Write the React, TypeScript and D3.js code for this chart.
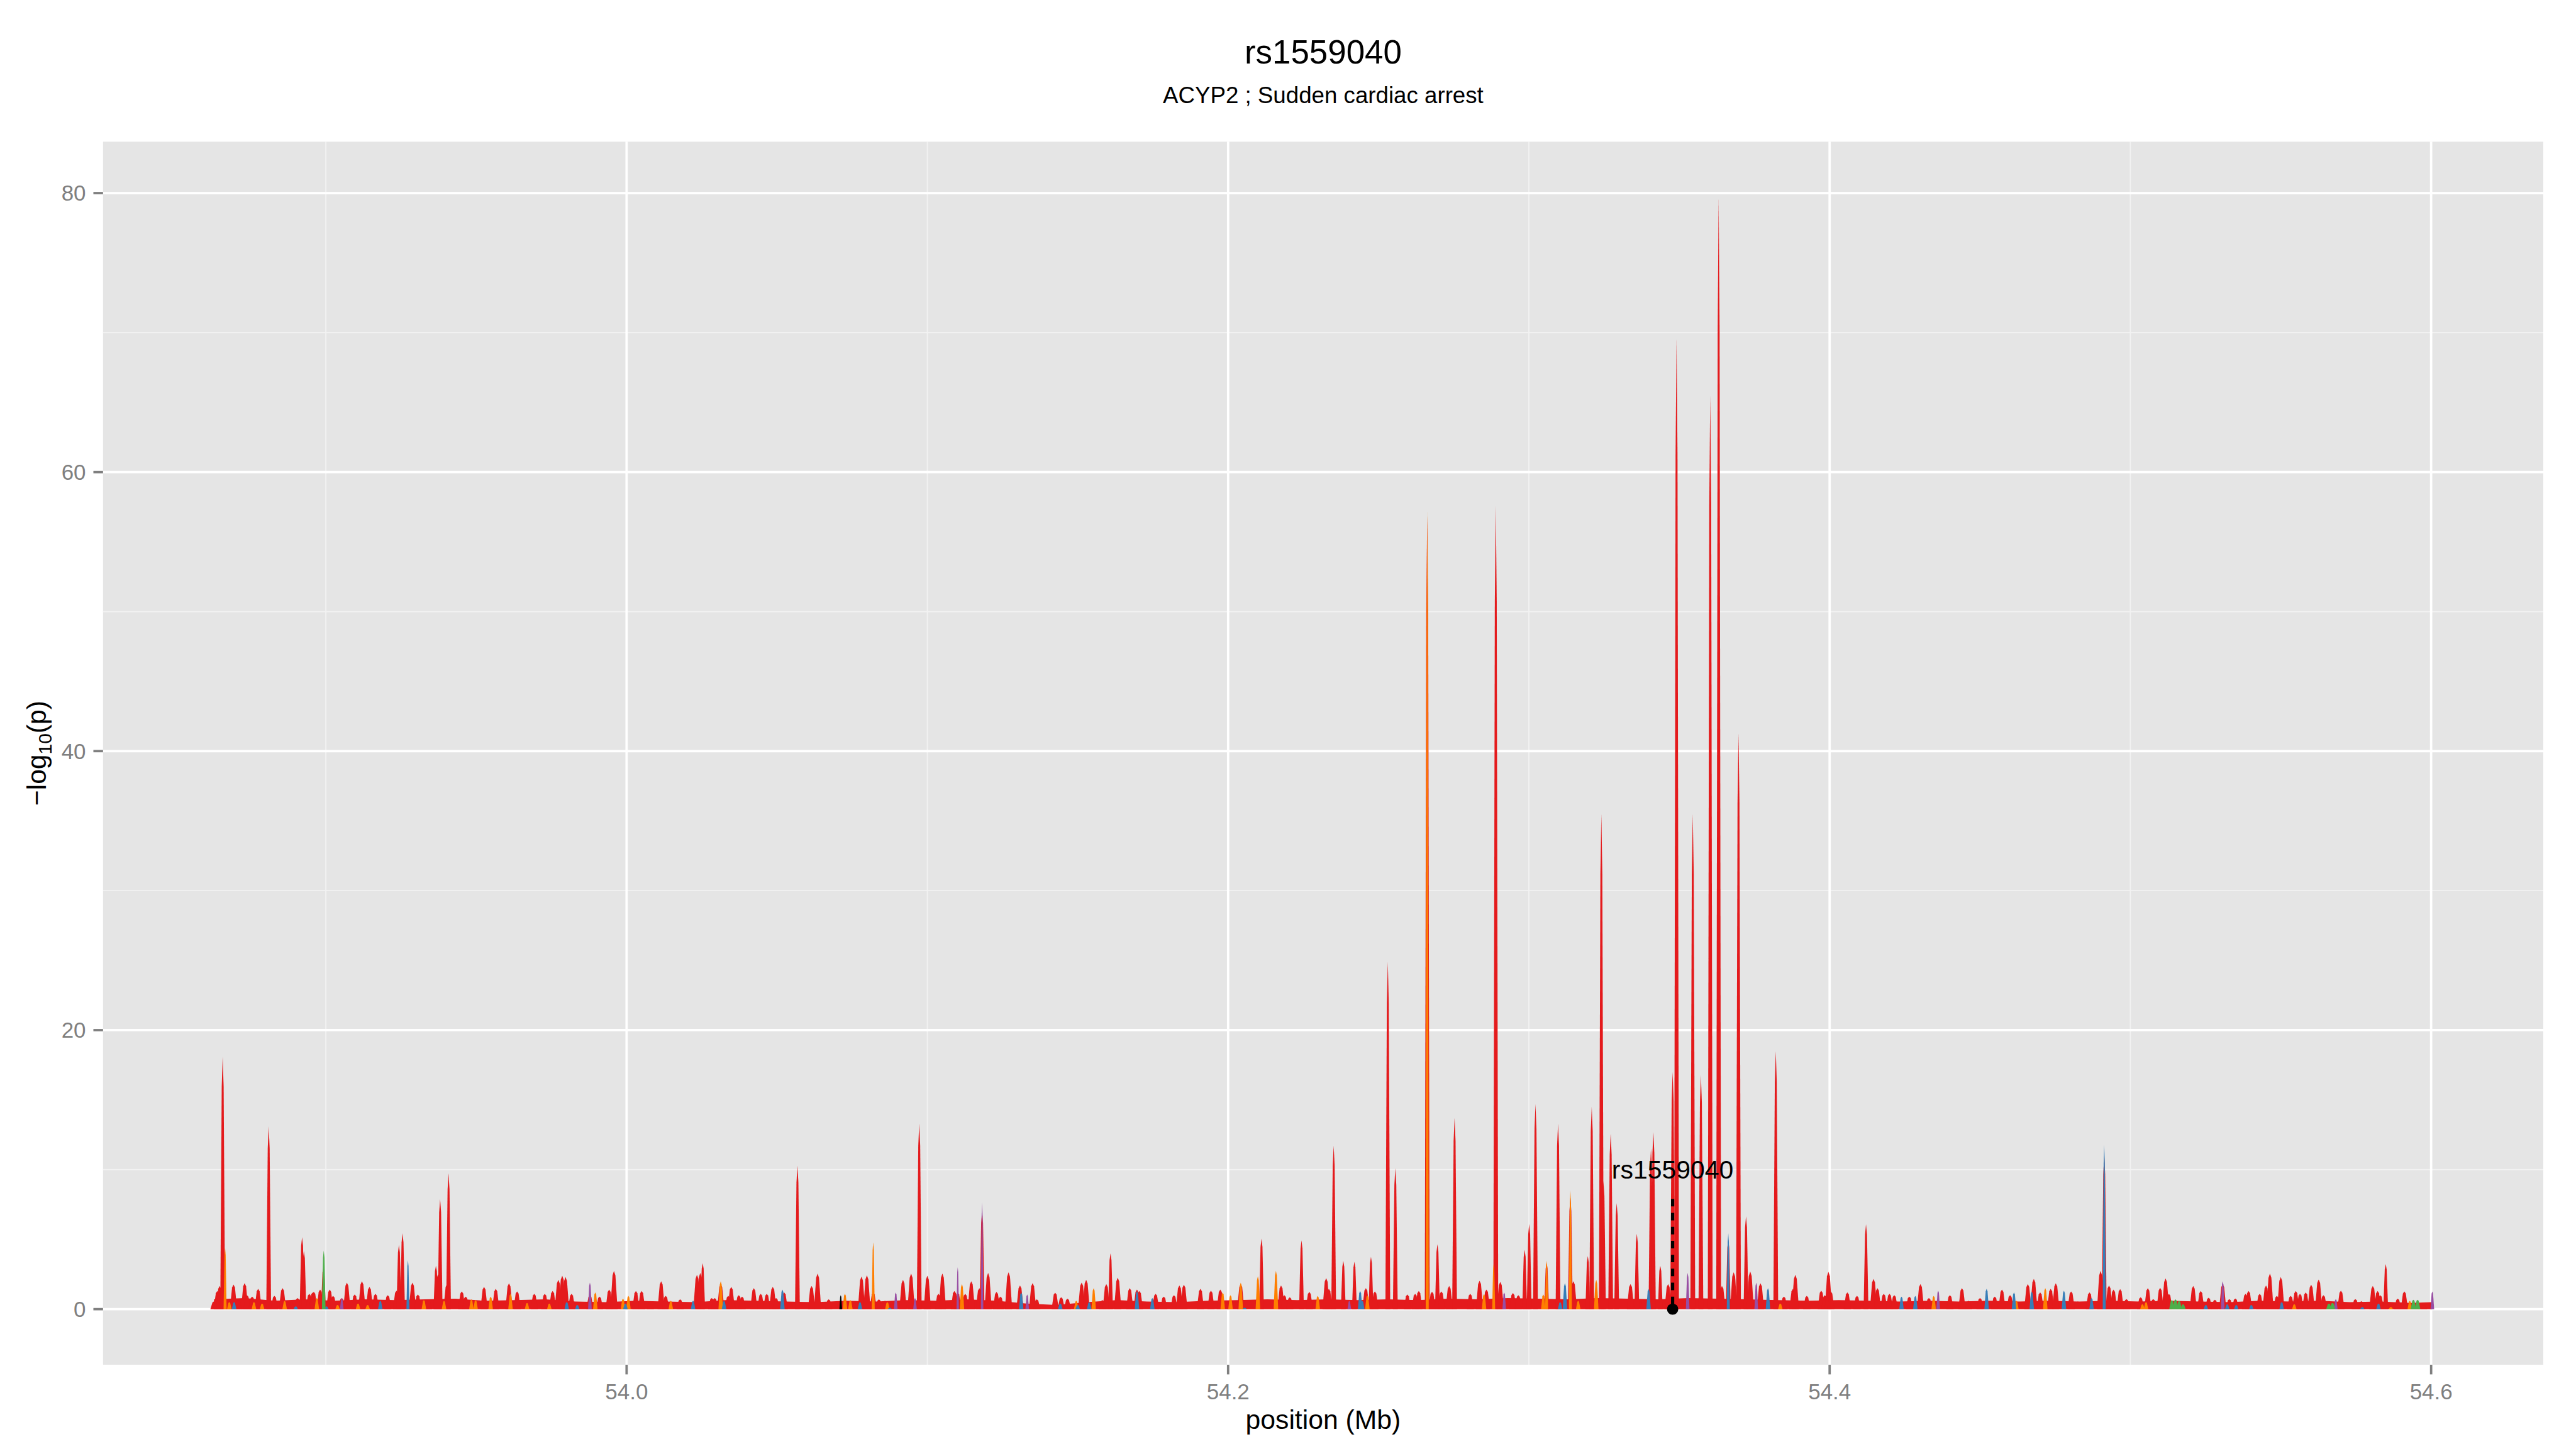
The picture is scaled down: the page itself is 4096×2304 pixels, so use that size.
import * as d3 from 'd3';

// -log10(p) values along the region (position in Mb, value)
const floorPoints: [number, number][] = [
  [53.8628, 0.7], [53.873, 0.8], [53.883, 0.6], [53.893, 0.7], [53.903, 0.6], [53.913, 0.7],
  [53.923, 0.65], [53.933, 0.7], [53.943, 0.75], [53.953, 0.6], [53.963, 0.65], [53.973, 0.7],
  [53.983, 0.55], [53.993, 0.5], [54.003, 0.6], [54.013, 0.55], [54.023, 0.5], [54.033, 0.65],
  [54.043, 0.6], [54.053, 0.55], [54.063, 0.5], [54.073, 0.6], [54.083, 0.55], [54.093, 0.65],
  [54.103, 0.6], [54.113, 0.7], [54.123, 0.6], [54.133, 0.4], [54.143, 0.3], [54.153, 0.5],
  [54.163, 0.65], [54.173, 0.55], [54.183, 0.5], [54.193, 0.6], [54.203, 0.65], [54.213, 0.7],
  [54.223, 0.65], [54.233, 0.7], [54.243, 0.65], [54.253, 0.7], [54.263, 0.65], [54.273, 0.75],
  [54.283, 0.7], [54.293, 0.8], [54.303, 0.75], [54.313, 0.7], [54.323, 0.8], [54.333, 0.75],
  [54.343, 0.7], [54.353, 0.8], [54.363, 0.75], [54.373, 0.7], [54.383, 0.65], [54.393, 0.6],
  [54.403, 0.65], [54.413, 0.6], [54.423, 0.55], [54.433, 0.6], [54.443, 0.55], [54.453, 0.6],
  [54.463, 0.55], [54.473, 0.6], [54.483, 0.55], [54.493, 0.6], [54.503, 0.55], [54.513, 0.6],
  [54.523, 0.55], [54.533, 0.5], [54.543, 0.6], [54.553, 0.55], [54.563, 0.6], [54.573, 0.5],
  [54.583, 0.55], [54.593, 0.45], [54.6004, 0.5],
];

const redPeaks: [number, number][] = [
  [53.8628, 0.56], [53.8639, 1.3], [53.8647, 1.66], [53.8657, 18.1], [53.8675, 0.6], [53.8693, 1.76],
  [53.8709, 0.67], [53.873, 1.87], [53.8738, 1.0], [53.8755, 0.9], [53.8775, 1.46], [53.881, 13.1],
  [53.8829, 0.95], [53.8856, 1.5], [53.8872, 0.5], [53.8886, 0.5], [53.8906, 0.8], [53.8921, 5.16],
  [53.8927, 4.16], [53.8945, 1.1], [53.8956, 1.2], [53.896, 1.25], [53.8981, 1.4], [53.8992, 3.0],
  [53.9013, 1.4], [53.9024, 0.95], [53.9053, 0.8], [53.907, 1.9], [53.9096, 1.05], [53.912, 2.0],
  [53.9145, 1.6], [53.9165, 1.1], [53.9206, 1.0], [53.9235, 1.33], [53.9243, 4.6], [53.9255, 5.44],
  [53.9288, 1.9], [53.9306, 1.05], [53.9341, 0.7], [53.9366, 3.1], [53.9373, 2.5], [53.938, 7.9],
  [53.9403, 1.8], [53.9408, 9.74], [53.9452, 1.27], [53.9465, 0.9], [53.9526, 1.6], [53.9565, 1.46],
  [53.9609, 1.85], [53.9636, 1.27], [53.9693, 1.1], [53.9728, 1.1], [53.9754, 1.3], [53.9773, 2.1],
  [53.9786, 2.4], [53.9797, 2.3], [53.9817, 1.1],
  [53.9878, 1.0], [53.991, 0.9], [53.9942, 1.4], [53.9958, 2.75], [54.0031, 1.3], [54.005, 1.3],
  [54.0079, 0.5], [54.0115, 2.0], [54.013, 0.95], [54.0178, 0.7], [54.0234, 2.46], [54.0245, 2.6],
  [54.0253, 3.3], [54.0283, 0.8], [54.0293, 0.8], [54.0313, 1.8], [54.0338, 0.95], [54.0348, 1.6],
  [54.0373, 1.0], [54.0384, 0.9], [54.0423, 1.5], [54.0446, 1.1], [54.0466, 1.1], [54.0486, 1.6],
  [54.0497, 0.8], [54.0524, 1.2], [54.0568, 10.3], [54.0615, 1.66], [54.0635, 2.55], [54.0672, 0.7],
  [54.0781, 2.34], [54.0799, 2.43], [54.082, 1.2], [54.0839, 0.7], [54.0859, 0.6], [54.0919, 2.1],
  [54.0946, 2.55], [54.0973, 13.3], [54.1, 2.4], [54.1037, 1.1], [54.105, 2.55], [54.109, 1.3],
  [54.1101, 1.2], [54.1126, 1.1], [54.1146, 2.0], [54.1173, 1.5], [54.1182, 7.0], [54.1202, 2.6],
  [54.123, 1.23], [54.1243, 0.9], [54.127, 2.64], [54.1308, 1.7], [54.135, 1.87], [54.1364, 0.7],
  [54.1425, 1.18], [54.1445, 0.85], [54.1466, 0.75], [54.1513, 1.9], [54.1528, 2.1], [54.1582, 0.65],
  [54.1595, 1.8], [54.1609, 4.0], [54.1633, 2.26], [54.1673, 1.5], [54.1697, 1.4], [54.1705, 1.3],
  [54.1759, 1.1], [54.1786, 0.9], [54.182, 1.0], [54.1838, 1.7], [54.1853, 1.75], [54.1908, 1.46],
  [54.1943, 1.33], [54.1974, 1.4], [54.2042, 1.8], [54.2111, 5.06], [54.2176, 1.7], [54.2187, 1.0],
  [54.2205, 0.85], [54.2244, 4.93], [54.227, 1.23], [54.2326, 2.23], [54.2335, 1.46],
  [54.2351, 11.7], [54.2383, 3.45], [54.242, 3.4], [54.2458, 1.5], [54.2475, 3.75], [54.2488, 1.27],
  [54.2531, 24.9], [54.2556, 10.1], [54.2596, 1.05], [54.2622, 1.1], [54.2634, 1.3], [54.2662, 56.8],
  [54.2678, 1.25], [54.2696, 4.65], [54.2709, 1.27], [54.2735, 1.66], [54.2753, 13.7], [54.2805, 1.1],
  [54.2836, 2.04], [54.2859, 1.4], [54.289, 57.6], [54.2905, 1.95], [54.2947, 1.15], [54.2965, 1.0],
  [54.2986, 4.25], [54.3001, 6.1], [54.3022, 14.7], [54.3059, 3.3], [54.3097, 13.3], [54.3138, 8.0],
  [54.3148, 2.0], [54.3196, 3.8], [54.3209, 14.5], [54.3241, 35.5], [54.3248, 9.2], [54.3272, 12.6],
  [54.3292, 7.6], [54.3338, 1.8], [54.3359, 5.4], [54.3381, 0.65], [54.3406, 11.5], [54.3414, 12.7],
  [54.3437, 3.1], [54.3463, 1.8], [54.3478, 17.0], [54.3491, 69.6], [54.3545, 35.5], [54.3572, 16.8],
  [54.3603, 65.5], [54.3631, 79.7], [54.3642, 1.66], [54.3663, 5.0], [54.3681, 2.64], [54.3697, 41.3],
  [54.3722, 6.66], [54.3736, 2.7], [54.377, 1.85], [54.3821, 18.5], [54.3848, 0.9], [54.3878, 1.46],
  [54.3886, 2.46], [54.3924, 0.95], [54.3972, 1.33], [54.3984, 1.0], [54.3996, 2.68], [54.4004, 1.27],
  [54.4059, 1.2], [54.4091, 0.95], [54.4121, 6.08], [54.4146, 2.17], [54.4159, 1.5], [54.418, 1.1],
  [54.4199, 1.1], [54.4215, 1.0], [54.4265, 0.9], [54.4302, 1.8], [54.433, 0.8], [54.44, 1.0],
  [54.444, 1.5], [54.4462, 0.6], [54.45, 0.8], [54.4549, 0.9], [54.4573, 1.4], [54.46, 1.0],
  [54.4659, 1.8], [54.4679, 2.17], [54.47, 1.2], [54.4735, 1.46], [54.4752, 1.85], [54.4803, 1.27],
  [54.4864, 1.2], [54.4901, 2.75], [54.4913, 11.0], [54.4929, 1.7], [54.4944, 1.4], [54.4966, 1.44],
  [54.4987, 0.72], [54.5034, 0.85], [54.5058, 1.5], [54.5076, 0.72], [54.5099, 1.53], [54.5117, 2.2],
  [54.5128, 1.1], [54.5209, 1.66], [54.5234, 1.3], [54.526, 0.82], [54.5281, 0.67], [54.5307, 1.8],
  [54.5329, 0.72], [54.5349, 0.76], [54.5383, 1.1], [54.5393, 1.3], [54.543, 1.1], [54.5451, 1.7],
  [54.5464, 2.55], [54.5487, 0.95], [54.55, 2.3], [54.5533, 0.95], [54.555, 1.3], [54.5564, 1.1],
  [54.5583, 1.2], [54.5601, 1.75], [54.5626, 2.13], [54.5642, 1.0], [54.57, 1.33], [54.5748, 0.72],
  [54.5768, 0.57], [54.5806, 1.66], [54.5822, 1.3], [54.5831, 1.0], [54.5849, 3.23], [54.5889, 0.75],
  [54.5911, 1.27], [54.5975, 0.3],
];

const orangePeaks: [number, number][] = [
  [53.8665, 4.4], [53.8679, 0.5], [53.8761, 0.5], [53.8788, 0.4], [53.8863, 0.6], [53.897, 0.8],
  [53.9039, 0.3], [53.9107, 0.4], [53.9139, 0.3], [53.9326, 0.65], [53.9393, 0.6], [53.9484, 0.7],
  [53.9498, 0.65], [53.9548, 0.9], [53.9614, 1.1], [53.9669, 0.45], [53.9743, 0.4],
  [53.9896, 1.2], [53.9988, 0.75], [54.0006, 0.95], [54.0147, 0.6], [54.0313, 2.0], [54.0726, 1.1],
  [54.0744, 0.65], [54.082, 4.8], [54.0867, 0.5],
  [54.1115, 1.8], [54.1495, 0.6], [54.1553, 1.5], [54.1982, 1.2], [54.2008, 1.0], [54.2042, 1.9],
  [54.2099, 2.36], [54.2159, 2.75], [54.2298, 0.95],
  [54.2463, 1.0], [54.2662, 57.2], [54.2851, 1.08], [54.2883, 3.26], [54.3048, 1.05], [54.3059, 3.48],
  [54.3138, 8.5], [54.3164, 0.6], [54.3224, 2.1], [54.3836, 0.4], [54.4346, 0.95], [54.4621, 0.6],
  [54.4717, 1.5], [54.504, 0.35], [54.5052, 0.5], [54.5545, 0.35], [54.5866, 0.15], [54.5929, 0.6],
];

const bluePeaks: [number, number][] = [
  [53.8695, 0.5], [53.89, 0.2], [53.9002, 0.2], [53.9181, 0.6], [53.9273, 3.5], [53.9801, 0.5],
  [53.9836, 0.3], [53.9996, 0.4], [54.0221, 0.6], [54.0324, 0.6], [54.0518, 1.4], [54.0776, 0.5],
  [54.0875, 0.1], [54.1312, 1.2], [54.1442, 0.4], [54.15, 0.3], [54.1538, 0.5], [54.1697, 1.3],
  [54.1748, 0.8], [54.2055, 0.1], [54.2439, 1.3], [54.2446, 0.6], [54.3104, 0.5], [54.312, 1.87],
  [54.3398, 1.45], [54.3663, 5.44], [54.3795, 1.5], [54.4239, 0.9], [54.4285, 0.95], [54.4522, 1.46],
  [54.4613, 1.2], [54.4672, 1.27], [54.4779, 1.33], [54.4871, 0.8], [54.4913, 11.8], [54.5251, 0.3],
  [54.5322, 0.35], [54.5352, 0.3], [54.5402, 0.3], [54.5503, 0.5], [54.5771, 0.15], [54.5825, 0.4],
];

const purplePeaks: [number, number][] = [
  [53.9053, 0.8], [53.9878, 1.9], [54.0895, 1.2], [54.0959, 0.8], [54.1101, 3.0], [54.1182, 7.65],
  [54.1332, 1.05], [54.2403, 0.6], [54.2918, 1.2], [54.3528, 2.6], [54.3756, 1.9], [54.4361, 1.33],
  [54.5307, 2.0], [54.5683, 0.72], [54.6004, 1.27],
];

const greenPeaks: [number, number][] = [
  [53.8993, 4.2], [54.5138, 0.65], [54.515, 0.7], [54.5162, 0.6], [54.5175, 0.35], [54.566, 0.4],
  [54.5672, 0.45], [54.5941, 0.67], [54.5955, 0.67],
];

const blackPeaks: [number, number][] = [[54.0712, 1.0]];

const xMajor = [54.0, 54.2, 54.4, 54.6];
const xMinor = [53.9, 54.1, 54.3, 54.5];
const yMajor = [0, 20, 40, 60, 80];
const yMinor = [10, 30, 50, 70];

const snpName = 'rs1559040';
const snpPos = 54.3478;
const labelY = 10;
const segmentTop = 7.9;
const title = 'rs1559040';
const subtitle = 'ACYP2 ; Sudden cardiac arrest';

const W = 4800;
const H = 2700;
const panel = { left: 192, right: 4739, top: 264, bottom: 2543 };
const font = '"Liberation Sans", Arial, Helvetica, sans-serif';

export default function App() {
  const all = [...redPeaks, ...orangePeaks, ...bluePeaks, ...purplePeaks, ...greenPeaks];
  const [x0, x1] = d3.extent(all, (d) => d[0]) as [number, number];
  const yMax = d3.max(all, (d) => d[1]) as number;
  const ex = (x1 - x0) * 0.05;
  const ey = yMax * 0.05;

  const x = d3.scaleLinear().domain([x0 - ex, x1 + ex]).range([panel.left, panel.right]);
  const y = d3.scaleLinear().domain([-ey, yMax + ey]).range([panel.bottom, panel.top]);

  const area = d3
    .area<[number, number]>()
    .x((d) => x(d[0]))
    .y0(y(0))
    .y1((d) => y(d[1]));

  // one variant drawn as a narrow peak: steep sides, short taper at the tip
  const spike = (d: [number, number], hw: number) => {
    const w = d[1] < 3 ? hw * 1.5 : hw;
    return area([
      [d[0] - w, 0],
      [d[0] - w * 0.4, d[1] * 0.88],
      [d[0], d[1]],
      [d[0] + w * 0.4, d[1] * 0.88],
      [d[0] + w, 0],
    ]) as string;
  };

  const series = [
    { data: redPeaks, color: '#E41A1C', hw: 0.0008 },
    { data: orangePeaks, color: '#FF7F00', hw: 0.0005 },
    { data: purplePeaks, color: '#984EA3', hw: 0.0004 },
    { data: bluePeaks, color: '#377EB8', hw: 0.0005 },
    { data: greenPeaks, color: '#4DAF4A', hw: 0.0006 },
    { data: blackPeaks, color: '#000000', hw: 0.0003 },
  ];

  return (
    <svg
      width={4096}
      height={2304}
      viewBox={`0 0 ${W} ${H}`}
      style={{ position: 'absolute', left: 0, top: 0, display: 'block' }}
      fontFamily={font}
    >
      <rect x={0} y={0} width={W} height={H} fill="#FFFFFF" />
      <rect
        x={panel.left}
        y={panel.top}
        width={panel.right - panel.left}
        height={panel.bottom - panel.top}
        fill="#E5E5E5"
      />
      {/* grid */}
      {xMinor.map((t) => (
        <line key={'xm' + t} x1={x(t)} x2={x(t)} y1={panel.top} y2={panel.bottom} stroke="#F2F2F2" strokeWidth={2.2} />
      ))}
      {yMinor.map((t) => (
        <line key={'ym' + t} x1={panel.left} x2={panel.right} y1={y(t)} y2={y(t)} stroke="#F2F2F2" strokeWidth={2.2} />
      ))}
      {xMajor.map((t) => (
        <line key={'xM' + t} x1={x(t)} x2={x(t)} y1={panel.top} y2={panel.bottom} stroke="#FFFFFF" strokeWidth={4.4} />
      ))}
      {yMajor.map((t) => (
        <line key={'yM' + t} x1={panel.left} x2={panel.right} y1={y(t)} y2={y(t)} stroke="#FFFFFF" strokeWidth={4.4} />
      ))}

      {/* signal */}
      <path d={area(floorPoints) as string} fill="#E41A1C" />
      {series.map((s) =>
        s.data.map((d, i) => <path key={s.color + i} d={spike(d, s.hw)} fill={s.color} />)
      )}

      {/* highlighted SNP */}
      <line
        x1={x(snpPos)}
        x2={x(snpPos)}
        y1={y(segmentTop)}
        y2={y(0)}
        stroke="#000000"
        strokeWidth={6}
        strokeDasharray="14 12"
      />
      <circle cx={x(snpPos)} cy={y(0)} r={10.5} fill="#000000" />
      <text x={x(snpPos)} y={y(labelY) + 17} textAnchor="middle" fontSize={48} fill="#000000">
        {snpName}
      </text>

      {/* axes */}
      {yMajor.map((t) => (
        <g key={'yt' + t}>
          <line x1={panel.left - 18} x2={panel.left} y1={y(t)} y2={y(t)} stroke="#7F7F7F" strokeWidth={4.4} />
          <text x={panel.left - 32} y={y(t) + 14.5} textAnchor="end" fontSize={41} fill="#7F7F7F">
            {t}
          </text>
        </g>
      ))}
      {xMajor.map((t) => (
        <g key={'xt' + t}>
          <line x1={x(t)} x2={x(t)} y1={panel.bottom} y2={panel.bottom + 18} stroke="#7F7F7F" strokeWidth={4.4} />
          <text x={x(t)} y={2608} textAnchor="middle" fontSize={41} fill="#7F7F7F">
            {d3.format('.1f')(t)}
          </text>
        </g>
      ))}

      <text x={(panel.left + panel.right) / 2} y={2662} textAnchor="middle" fontSize={50} fill="#000000">
        position (Mb)
      </text>
      <text transform={`translate(86, ${(panel.top + panel.bottom) / 2}) rotate(-90)`} textAnchor="middle" fontSize={50} fill="#000000">
        {'\u2212log'}
        <tspan fontSize={35} dy={10}>
          10
        </tspan>
        <tspan dy={-10}>(p)</tspan>
      </text>

      <text x={(panel.left + panel.right) / 2} y={118} textAnchor="middle" fontSize={62} fill="#000000">
        {title}
      </text>
      <text x={(panel.left + panel.right) / 2} y={192} textAnchor="middle" fontSize={43} fill="#000000">
        {subtitle}
      </text>
    </svg>
  );
}
